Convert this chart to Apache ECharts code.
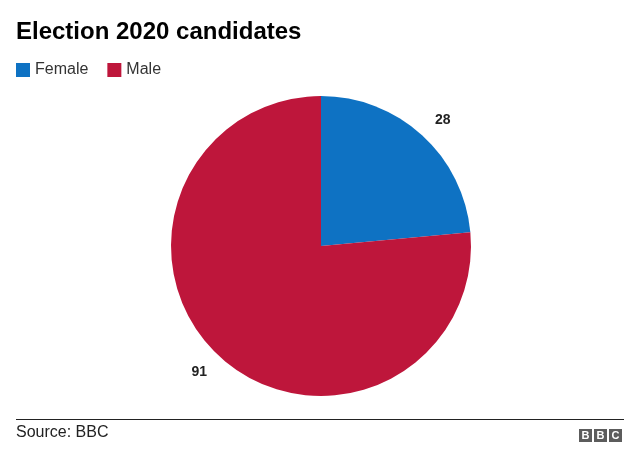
<!DOCTYPE html>
<html>
<head>
<meta charset="utf-8">
<script src="https://cdn.jsdelivr.net/npm/echarts@6/dist/echarts.min.js"></script>
<style>
html,body{margin:0;padding:0;background:#fff;}
#chart{width:640px;height:463px;}
</style>
</head>
<body>
<div id="chart"></div>
<script>
var categories = ['Female', 'Male'];
var values = [28, 91];
var colors = ['#0e72c3', '#be163b'];

var pieData = categories.map(function (c, i) {
  return { name: c, value: values[i], itemStyle: { color: colors[i] } };
});
var labelData = categories.map(function (c, i) {
  return { name: c, value: values[i], itemStyle: { color: 'rgba(0,0,0,0)' } };
});

var chart = echarts.init(document.getElementById('chart'));
chart.setOption({
  animation: false,
  title: {
    text: 'Election 2020 candidates',
    left: 16, top: 20, padding: 0,
    textStyle: { fontFamily: 'Liberation Sans', fontWeight: 'bold', fontSize: 24, color: '#000' }
  },
  legend: {
    data: categories,
    left: 16, top: 62, padding: 0,
    icon: 'rect', itemWidth: 14, itemHeight: 14, itemGap: 19,
    textStyle: { fontFamily: 'Liberation Sans', fontSize: 16, color: '#333' }
  },
  series: [
    {
      type: 'pie',
      center: [321, 246],
      radius: [0, 150],
      startAngle: 90,
      clockwise: true,
      label: { show: false },
      labelLine: { show: false },
      emphasis: { disabled: true },
      data: pieData
    },
    {
      type: 'pie',
      center: [321, 246],
      radius: [150, 194],
      startAngle: 88.3,
      clockwise: true,
      silent: true,
      label: {
        show: true, position: 'inside', formatter: '{c}',
        fontFamily: 'Liberation Sans', fontWeight: 'bold', fontSize: 14, color: '#222'
      },
      labelLine: { show: false },
      emphasis: { disabled: true },
      data: labelData
    }
  ],
  graphic: [
    { type: 'line', shape: { x1: 16, y1: 419.5, x2: 624, y2: 419.5 }, style: { stroke: '#222', lineWidth: 1 } },
    { type: 'text', left: 16, top: 425, style: { text: 'Source: BBC', fontFamily: 'Liberation Sans', fontSize: 16, fill: '#222' } },
    { type: 'group', left: 579, top: 429, children: [
      { type: 'rect', shape: { x: 0, y: 0, width: 13, height: 13 }, style: { fill: '#5c5c5c' } },
      { type: 'rect', shape: { x: 15, y: 0, width: 13, height: 13 }, style: { fill: '#5c5c5c' } },
      { type: 'rect', shape: { x: 30, y: 0, width: 13, height: 13 }, style: { fill: '#5c5c5c' } },
      { type: 'text', style: { x: 6.5, y: 7, text: 'B', fontFamily: 'Liberation Sans', fontWeight: 'bold', fontSize: 11, fill: '#fff', align: 'center', verticalAlign: 'middle' } },
      { type: 'text', style: { x: 21.5, y: 7, text: 'B', fontFamily: 'Liberation Sans', fontWeight: 'bold', fontSize: 11, fill: '#fff', align: 'center', verticalAlign: 'middle' } },
      { type: 'text', style: { x: 36.5, y: 7, text: 'C', fontFamily: 'Liberation Sans', fontWeight: 'bold', fontSize: 11, fill: '#fff', align: 'center', verticalAlign: 'middle' } }
    ]}
  ]
});
</script>
</body>
</html>
